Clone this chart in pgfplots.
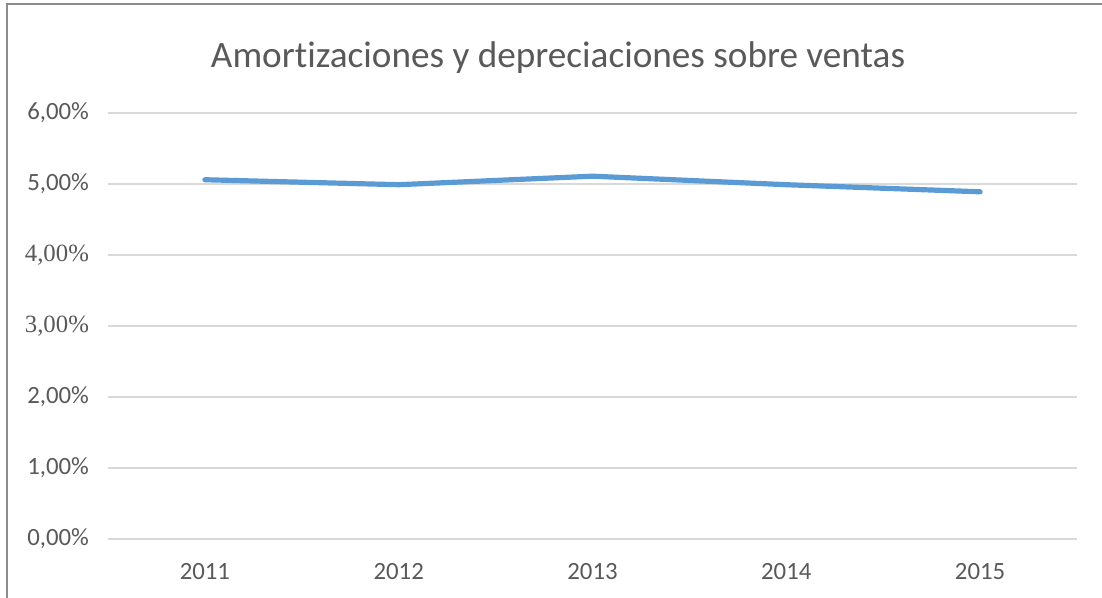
\documentclass[border=0pt]{standalone}
\usepackage{fontspec}
\setmainfont{Carlito}[Ligatures=NoCommon]
\newfontfamily\seriffont{Liberation Serif}
\usepackage{pgfplots}
\pgfplotsset{compat=1.18}
\definecolor{txt}{HTML}{595959}
\definecolor{gridc}{HTML}{D9D9D9}
\definecolor{line}{HTML}{5B9BD5}
\definecolor{frame}{HTML}{8C8C8C}
\begin{document}
\begin{tikzpicture}[x=1pt,y=1pt]
\useasboundingbox (0,0) rectangle (551,299);
\draw[frame,line width=0.9pt] (3.5,0) -- (3.5,297) -- (551,297);
\node[anchor=base,text=txt,font=\fontsize{18.6}{21}\selectfont] at (279,265) {Amortizaciones y depreciaciones sobre ventas};
\begin{axis}[
  at={(54pt,29.5pt)}, anchor=south west,
  scale only axis, width=484.5pt, height=213pt,
  xmin=-0.5, xmax=4.5, ymin=0, ymax=0.06,
  scaled y ticks=false,
  axis line style={draw=none},
  tick style={draw=none},
  xtick={0,1,2,3,4},
  xticklabels={2011,2012,2013,2014,2015},
  ytick={0,0.01,0.02,0.03,0.04,0.05,0.06},
  yticklabels={{0,00\%},{1,00\%},{2,00\%},{\seriffont 3,00\%},{\seriffont 4,00\%},{5,00\%},{6,00\%}},
  ymajorgrids, major grid style={gridc, line width=0.9pt},
  ticklabel style={text=txt, font=\fontsize{12.4}{14}\selectfont},
  yticklabel style={xshift=-6pt},
  xticklabel style={yshift=-8.5pt},
  clip=false,
]
\addplot[line, line width=2.6pt, line cap=round, line join=round] coordinates {
 (0,0.0506) (1,0.0499) (2,0.0511) (3,0.0499) (4,0.0489)
};
\end{axis}
\end{tikzpicture}
\end{document}
